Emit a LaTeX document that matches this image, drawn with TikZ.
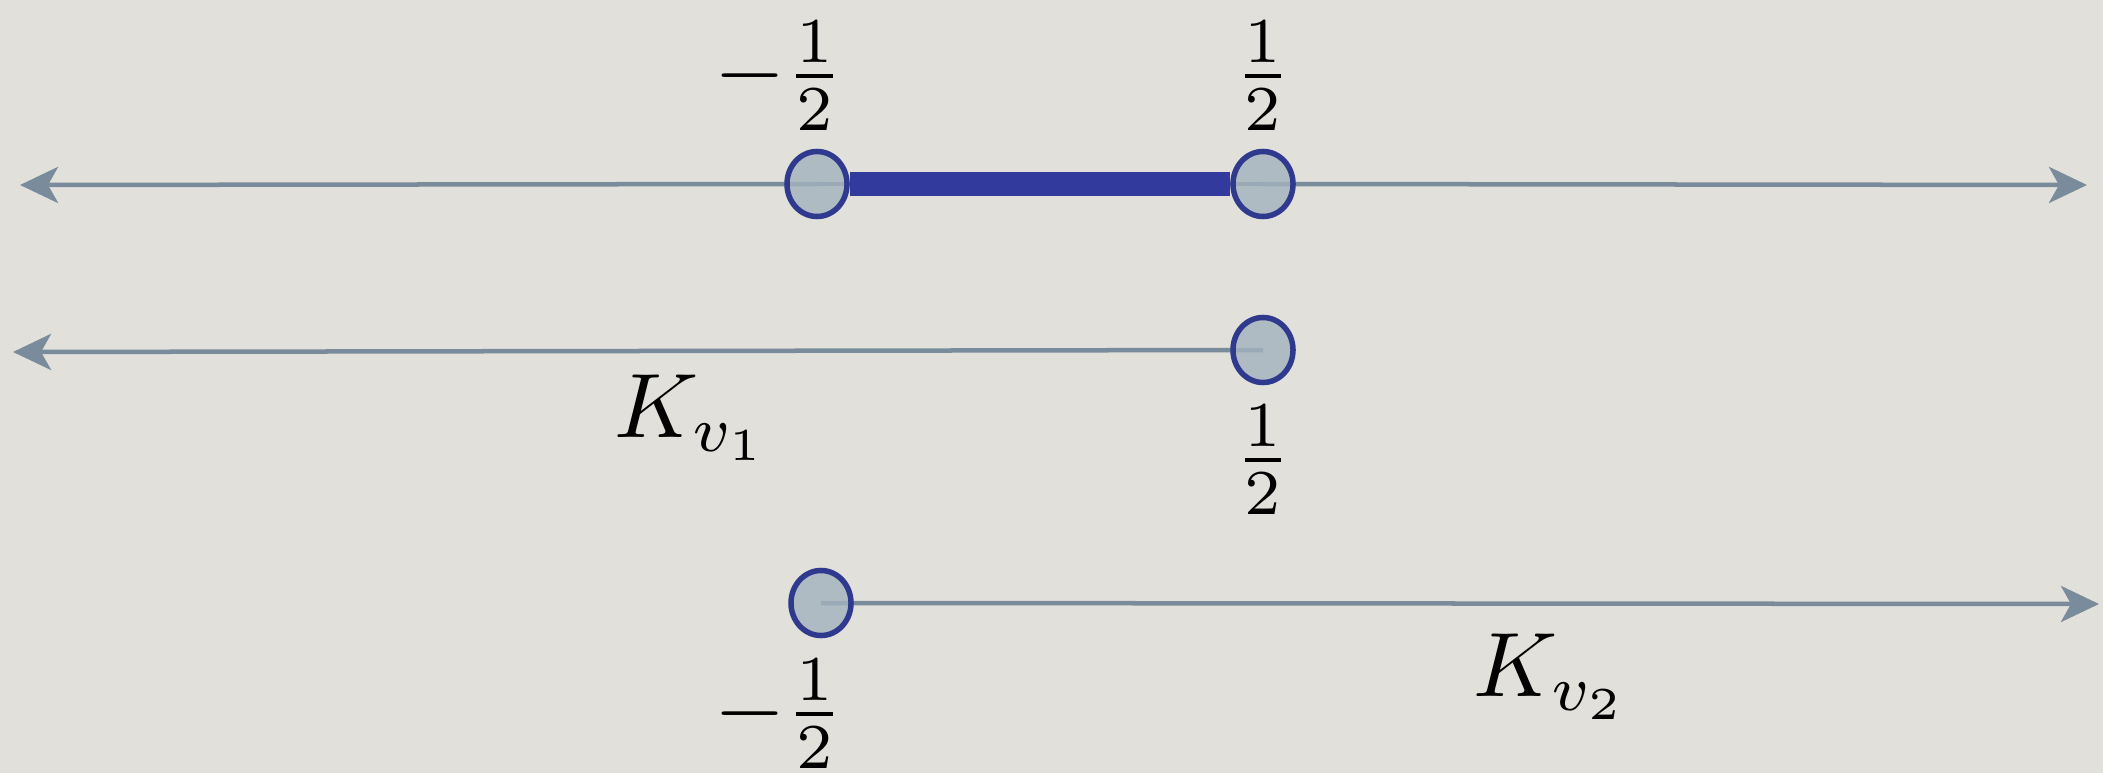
\documentclass[tikz,border=0pt]{standalone}
\usetikzlibrary{arrows.meta,shapes.geometric}
\definecolor{bgc}{HTML}{E1E0DA}
\definecolor{axisc}{HTML}{7A8B9C}
\definecolor{navyc}{HTML}{2F3A8E}
\definecolor{dotc}{HTML}{A2B2BD}
\definecolor{barc}{HTML}{333A9E}
\pgfdeclarelayer{under}
\pgfsetlayers{under,main}
\begin{document}
\begin{tikzpicture}[x=0.01cm,y=-0.01cm,
  axisline/.style={draw=axisc,line width=0.045cm},
  tipend/.style={-{Stealth[length=0.38cm,width=0.36cm,inset=0.1cm]}},
  dot/.style={ellipse,draw=navyc,line width=0.055cm,fill=dotc,fill opacity=0.8,
    minimum width=0.6cm,minimum height=0.65cm,inner sep=0pt},
  lbl/.style={inner sep=0pt,scale=2.6}]
\useasboundingbox (0,0) rectangle (2103,773);
% points
\node[dot] (p1) at (817,184) {};
\node[dot] (p2) at (1263,184) {};
\node[dot] (p3) at (1263,350) {};
\node[dot] (p4) at (821,603) {};
\coordinate (l1) at (20,185);
\coordinate (r1) at (2087,185);
\coordinate (l2) at (13,352);
\coordinate (r3) at (2099,604);
% labels
\node[lbl] (t1) at (779,76) {$-\frac{1}{2}$};
\node[lbl] (t2) at (1263,76) {$\frac{1}{2}$};
\node[lbl] (t3) at (1263,460) {$\frac{1}{2}$};
\node[lbl] (t4) at (779,714) {$-\frac{1}{2}$};
\node[lbl] (k1) at (692,418) {$K_{v_1}$};
\node[lbl] (k2) at (1551,677) {$K_{v_2}$};
\begin{pgfonlayer}{under}
\fill[bgc] (0,0) rectangle (2103,773);
\draw[axisline,tipend] (p1.center) -- (l1);
\draw[axisline] (p1.center) -- (p2.center);
\draw[axisline,tipend] (p2.center) -- (r1);
\draw[axisline,tipend] (p3.center) -- (l2);
\draw[axisline,tipend] (p4.center) -- (r3);
\draw[barc,line width=0.24cm] (p1.east) -- (p2.west);
\end{pgfonlayer}
\end{tikzpicture}
\end{document}
